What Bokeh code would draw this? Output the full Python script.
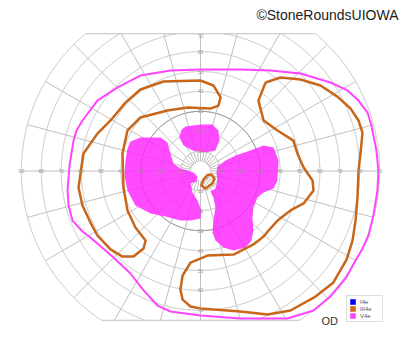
import numpy as np
from bokeh.plotting import figure
from bokeh.models import Label, Legend, LegendItem
from bokeh.embed import file_html
from bokeh.resources import INLINE
from bokeh.core.properties import value

# ---------------- data (degrees of visual field; x horizontal, y vertical) ----------------
# V4e outer isopter
v4e_x = [0, 20.1, 35.2, 50.3, 65.3, 73.9, 79.4, 83.9, 85.9, 88.4, 89.4, 88.9, 86.9, 84.4,
         81.4, 77.9, 72.9, 65.3, 56.8, 43.7, 20.1, 0, -15.1, -21.6, -28.6, -35.2, -43.7,
         -55.3, -59.3, -64.3, -66.3, -66.8, -65.8, -63.8, -62.3, -59.3, -51.8, -41.7, -30.2,
         -15.1, 0]
v4e_y = [51.0, 51.0, 50.5, 49.0, 44.5, 40.5, 35.4, 29.4, 22.9, 10.3, 0.3, -9.8, -22.4, -32.4,
         -39.0, -45.0, -54.0, -63.1, -70.1, -74.1, -74.1, -72.6, -70.6, -67.6, -60.0, -51.5,
         -43.5, -33.4, -30.4, -24.9, -17.3, -9.8, 2.8, 15.3, 20.4, 25.4, 35.4, 42.0, 48.0,
         50.5, 51.0]

# III4e isopter: upper-left/temporal lobe
iii4e_a_x = [0, 6.5, 10.1, 9.0, 5.0, -6.5, -16.6, -30.2, -36.7, -39.2, -38.7, -36.7, -32.7,
             -27.6, -28.6, -33.7, -39.2, -45.2, -51.8, -55.3, -59.3, -61.3, -58.8, -51.8,
             -45.2, -37.7, -30.2, -18.6, 0]
iii4e_a_y = [45.5, 43.0, 37.0, 32.9, 31.4, 31.9, 30.4, 26.9, 20.4, 8.8, -8.3, -19.8, -28.4,
             -34.9, -38.9, -43.0, -43.0, -39.4, -32.4, -25.9, -17.3, -8.3, 8.8, 18.8, 25.4,
             34.4, 41.0, 45.0, 45.5]

# III4e isopter: right lobe
iii4e_b_x = [32.7, 40.2, 50.3, 60.3, 68.8, 75.4, 79.4, 81.4, 80.4, 79.4, 78.9, 77.9, 76.4,
             73.4, 66.8, 57.8, 45.2, 33.7, 20.1, 0, -5.0, -9.0, -10.1, -9.0, -5.0, 3.5, 16.6,
             26.6, 31.7, 34.2, 38.7, 45.2, 51.8, 56.8, 56.3, 51.8, 48.7, 46.7, 38.7, 31.7,
             29.1, 32.7]
iii4e_b_y = [44.5, 47.0, 46.0, 43.0, 37.4, 31.4, 25.4, 19.3, 8.8, 0.3, -13.3, -24.9, -35.0,
             -44.5, -56.0, -63.1, -70.1, -72.1, -70.6, -69.1, -68.1, -64.6, -59.6, -52.5,
             -46.0, -42.5, -42.0, -36.9, -32.9, -29.9, -24.9, -19.8, -16.3, -9.8, -4.8, 1.8,
             8.8, 15.3, 20.4, 25.4, 35.4, 44.5]

# III4e isopter: small central island
iii4e_c_x = [5.5, 7.0, 6.0, 2.5, 0.5, 1.5, 3.5, 5.5]
iii4e_c_y = [-1.8, -3.8, -6.3, -8.8, -7.3, -4.3, -2.0, -1.8]

# V4e scotomas (filled)
scot_top_x = [-7.5, 0, 6.0, 9.0, 9.5, 7.5, 2.5, -4.0, -8.5, -10.6, -9.5]
scot_top_y = [22.4, 23.4, 23.4, 20.4, 15.3, 10.3, 9.3, 10.3, 12.8, 16.8, 20.9]

scot_left_x = [-35.2, -30.2, -20.1, -16.6, -15.1, -13.6, -10.1, -6.5, -3.5, -1.5, -2.0, -5.0,
               -4.0, -1.5, 0.5, 0, -5.0, -10.1, -17.6, -25.1, -32.7, -36.7, -38.2, -37.7, -36.7]
scot_left_y = [14.8, 16.8, 16.8, 14.3, 8.8, 3.8, 1.3, 0.3, -0.8, -2.8, -5.3, -6.3, -10.8,
               -14.8, -19.8, -23.9, -24.9, -24.9, -22.9, -21.4, -17.3, -9.8, -2.3, 5.3, 11.3]

scot_right_x = [8.5, 12.6, 17.6, 23.6, 31.7, 36.7, 39.2, 38.7, 36.7, 31.7, 28.6, 26.6, 26.1,
                26.6, 25.6, 22.6, 16.6, 11.6, 7.5, 6.0, 6.5, 7.5, 6.5, 5.0, 7.5, 8.5, 8.0]
scot_right_y = [2.3, 5.3, 7.8, 9.8, 12.8, 11.8, 5.3, -4.8, -8.8, -10.8, -13.3, -18.3, -23.4,
                -29.9, -35.0, -38.4, -40.0, -38.4, -34.9, -30.9, -24.9, -18.3, -13.3, -10.3,
                -8.8, -4.8, -0.8]

# grid / tick labels
ring_values = [10, 20, 30, 40, 50, 60, 70, 80, 90]
h_labels = ["10", "20", "30", "40", "50", "60", "70", "80", "90"]
v_values = [10, 20, 30, 40, 50, 60, 70]
v_labels = ["10", "20", "30", "40", "50", "60", "70"]
legend_labels = ["I4e", "III4e", "V4e"]
legend_colors = ["#0000ff", "#cc6a1a", "#ff44ff"]

# ---------------- figure ----------------
YTOP, YBOT, RMAX = 69.0, -75.0, 90.0
GRID = "#c0c0c0"
V4E_COL = "#ff44ff"
III4E_COL = "#c8661a"

p = figure(width=400, height=352, x_range=(-100.5, 100.5), y_range=(-91.2, 85.7),
           output_backend="svg", toolbar_location=None, min_border=0,
           x_axis_type=None, y_axis_type=None)
p.grid.visible = False
p.outline_line_color = None
p.background_fill_color = "white"


def arc(r):
    t = np.linspace(0, 2 * np.pi, 2881)
    x = r * np.cos(t)
    y = r * np.sin(t)
    m = (y > YTOP) | (y < YBOT)
    x[m] = np.nan
    y[m] = np.nan
    return x, y


# rings
for r in [5] + ring_values:
    x, y = arc(r)
    col = "#6a6a6a" if r == 30 else GRID
    p.line(x, y, line_color=col, line_width=1)

# meridians every 15 degrees
mx, my = [], []
for a in range(0, 360, 15):
    th = np.radians(a)
    s = np.sin(th)
    r1 = RMAX
    if s > 1e-9:
        r1 = min(RMAX, YTOP / s)
    elif s < -1e-9:
        r1 = min(RMAX, YBOT / s)
    mx.append([10 * np.cos(th), r1 * np.cos(th)])
    my.append([10 * np.sin(th), r1 * np.sin(th)])
p.multi_line(mx, my, line_color=GRID, line_width=1)

# inner spokes
sx, sy = [], []
for a in range(0, 360, 10):
    th = np.radians(a)
    sx.append([5 * np.cos(th), 10 * np.cos(th)])
    sy.append([5 * np.sin(th), 10 * np.sin(th)])
p.multi_line(sx, sy, line_color=GRID, line_width=1)

# top/bottom boundary
xt = np.sqrt(RMAX ** 2 - YTOP ** 2)
xb = np.sqrt(RMAX ** 2 - YBOT ** 2)
p.multi_line([[-xt, xt], [-xb, xb]], [[YTOP, YTOP], [YBOT, YBOT]], line_color=GRID, line_width=1)

# scotomas
for xs, ys in [(scot_top_x, scot_top_y), (scot_left_x, scot_left_y), (scot_right_x, scot_right_y)]:
    p.patch(xs, ys, fill_color="#ff2bff", fill_alpha=0.85, line_color=None)

# isopters
p.line(v4e_x, v4e_y, line_color=V4E_COL, line_width=2, line_join="round")
for xs, ys in [(iii4e_a_x, iii4e_a_y), (iii4e_b_x, iii4e_b_y), (iii4e_c_x, iii4e_c_y)]:
    p.line(xs, ys, line_color=III4E_COL, line_width=2.5, line_join="round")

# tick labels
hx = [-v for v in ring_values] + ring_values
hy = [0] * len(hx)
p.text(hx, hy, text=h_labels + h_labels, text_font=value("Liberation Sans"),
       text_font_size="5px", text_color="#999999", text_align="center", text_baseline="middle")
vy = [min(v, 68) for v in v_values] + [-v for v in v_values]
vx = [0] * len(vy)
p.text(vx, vy, text=v_labels + v_labels, text_font=value("Liberation Sans"),
       text_font_size="5px", text_color="#999999", text_align="center", text_baseline="middle")

# legend (swatch-only renderers: a single non-finite row, so nothing is drawn in the plot)
items = []
for lab, col in zip(legend_labels, legend_colors):
    r = p.quad(left=[np.nan], right=[np.nan], top=[np.nan], bottom=[np.nan],
               fill_color=col, line_color=None)
    items.append(LegendItem(label=lab, renderers=[r]))
legend = Legend(items=items, location=(346, 30), label_text_font_size="6px",
                label_text_color="#555555", label_text_font="Liberation Sans",
                glyph_height=7, glyph_width=7, label_height=7, spacing=0, padding=2,
                margin=0, label_standoff=4, border_line_color="#bbbbbb",
                border_line_width=1, background_fill_alpha=1)
p.add_layout(legend)

p.add_layout(Label(x=398, y=338, x_units="screen", y_units="screen", text="©StoneRoundsUIOWA",
                   text_align="right", text_baseline="alphabetic", text_font="Liberation Sans",
                   text_font_size="14px", text_color="#222222"))
p.add_layout(Label(x=321, y=32, x_units="screen", y_units="screen", text="OD",
                   text_align="left", text_baseline="alphabetic", text_font="Liberation Sans",
                   text_font_size="11px", text_color="#333333"))

open("out.html", "w").write(file_html(p, INLINE))
